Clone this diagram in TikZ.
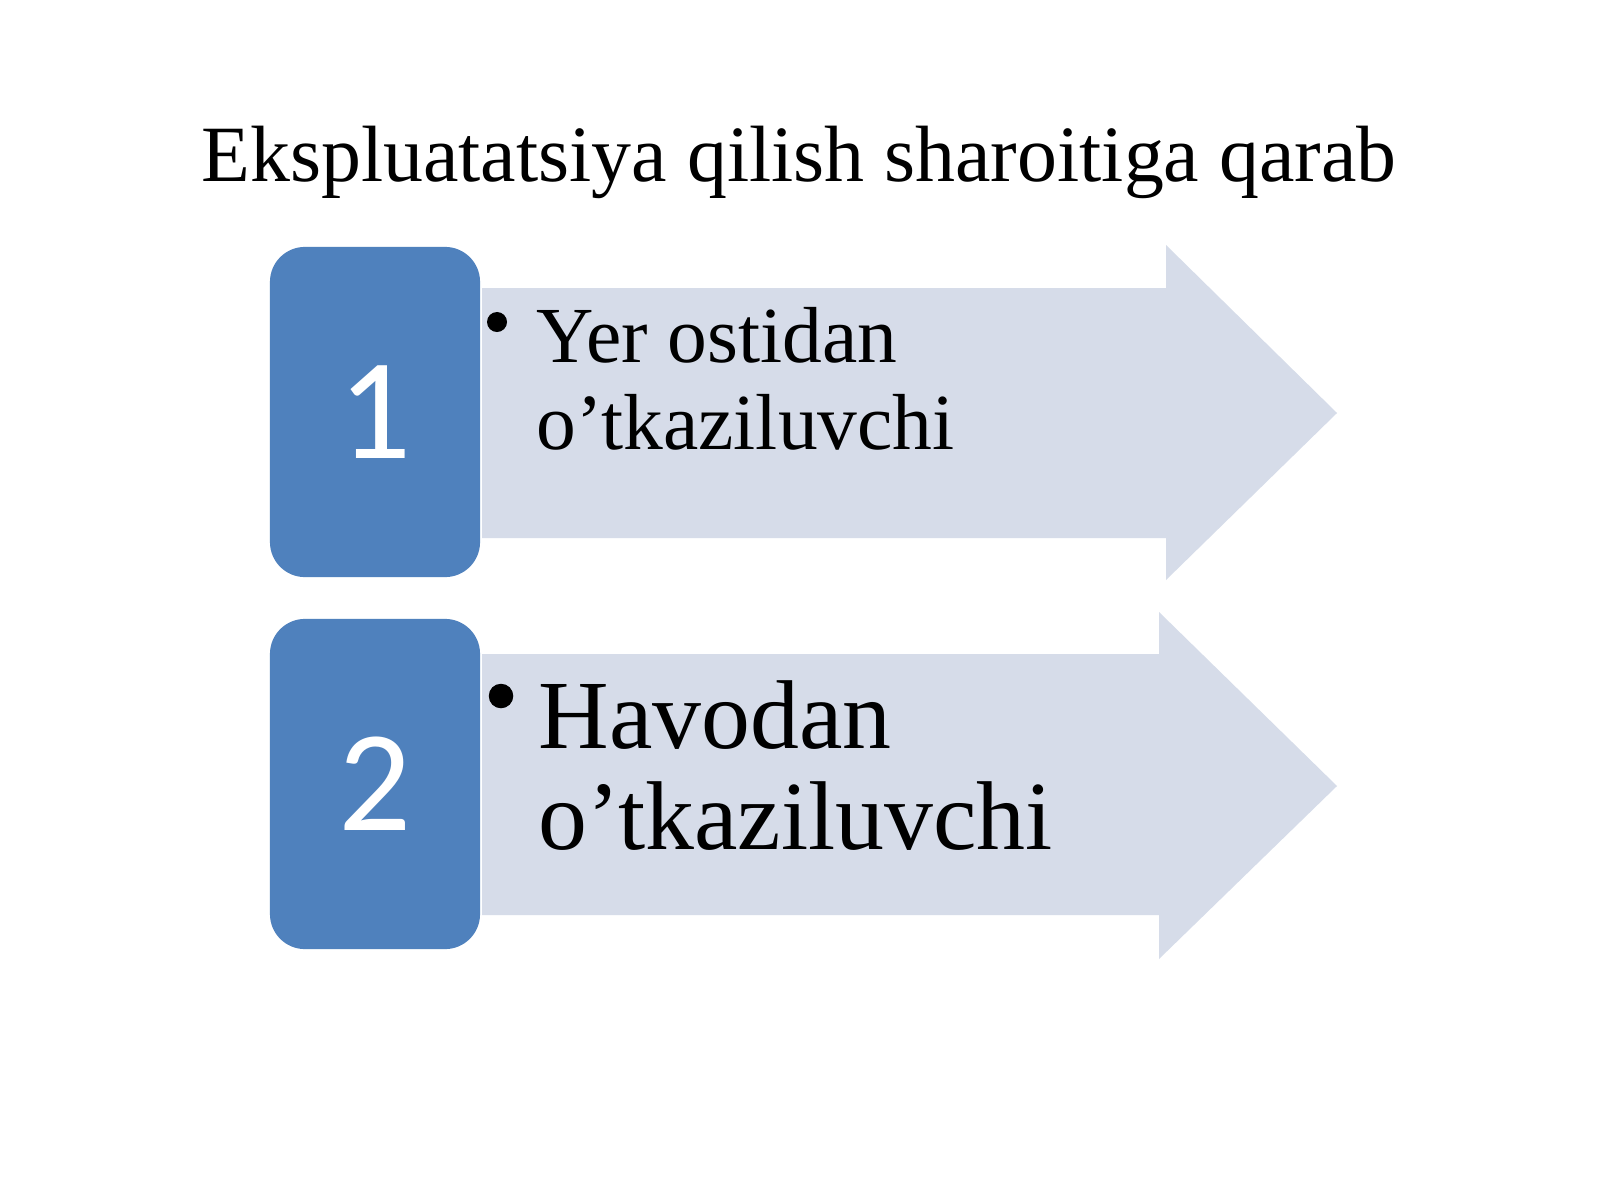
\documentclass[tikz,border=0pt]{standalone}
\usepackage{fontspec}
\setmainfont{Liberation Serif}
\newfontfamily\numfont{Carlito}
\usetikzlibrary{positioning}
\definecolor{boxblue}{RGB}{79,129,189}
\definecolor{arrowgrey}{RGB}{214,220,233}
\tikzstyle{numbox}=[fill=boxblue, rounded corners=0.35cm, inner sep=0, minimum width=2.1cm, minimum height=3.3cm,
                    text=white, font=\numfont\fontsize{41}{41}\selectfont]
\tikzstyle{arrowbody}=[fill=arrowgrey]
\tikzstyle{bulletdot}=[circle, fill=black, inner sep=0]
\tikzstyle{itemtext}=[anchor=base west, inner sep=0]
\tikzstyle{slide}=[x=0.01cm, y=-0.01cm]

\begin{document}
\begin{tikzpicture}[slide]
        \useasboundingbox[fill=white] (0,0) rectangle (1600,1200);
        \node[anchor=base, inner sep=0, font=\fontsize{22.7}{22.7}\selectfont] (title) at (799,181) {Ekspluatatsiya qilish sharoitiga qarab};
        % first row
        \path[arrowbody] (482,288) -- (1166,288) -- (1166,245) -- (1337,413) -- (1166,580) -- (1166,538) -- (482,538) -- cycle;
        \node[numbox] (N1) at (375,412) {1};
        \node[bulletdot, minimum size=0.2cm] (B1) at (497,322) {};
        \node[itemtext, font=\fontsize{22.6}{22.6}\selectfont] (T1a) at (536,362) {Yer ostidan};
        \node[itemtext, font=\fontsize{22.6}{22.6}\selectfont] (T1b) at (536,449) {o’tkaziluvchi};
        % second row
        \path[arrowbody] (482,654) -- (1159,654) -- (1159,612) -- (1337,786) -- (1159,959) -- (1159,915) -- (482,915) -- cycle;
        \node[numbox] (N2) at (375,784) {2};
        \node[bulletdot, minimum size=0.245cm] (B2) at (501,696) {};
        \node[itemtext, font=\fontsize{27.8}{27.8}\selectfont] (T2a) at (538,748) {Havodan};
        \node[itemtext, font=\fontsize{27.8}{27.8}\selectfont] (T2b) at (538,849) {o’tkaziluvchi};
    \end{tikzpicture}
\end{document}
